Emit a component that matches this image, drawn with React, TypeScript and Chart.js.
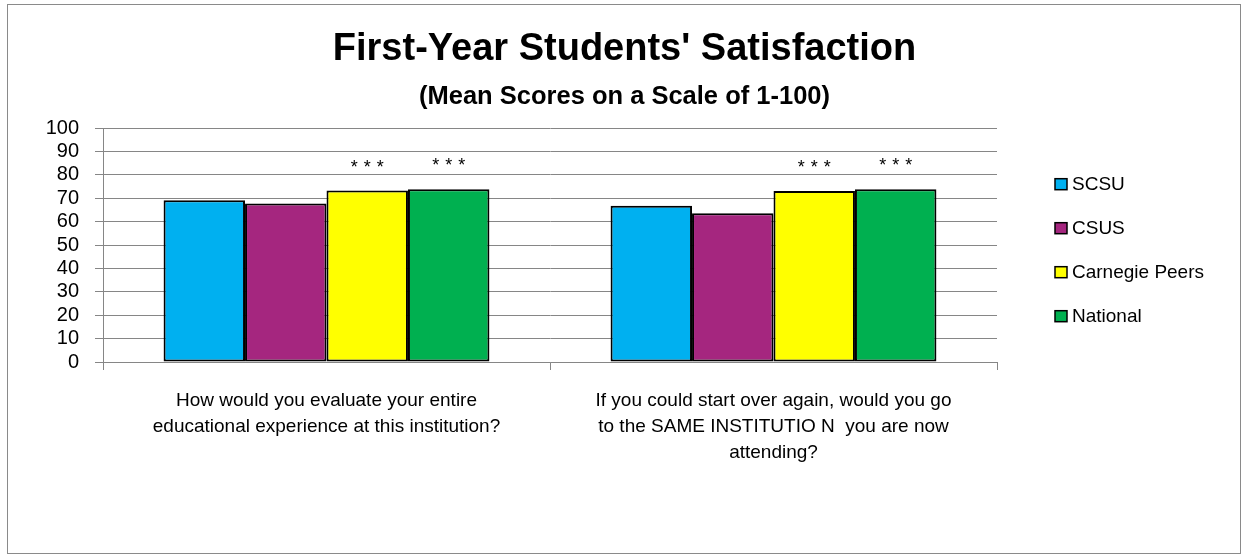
import React, { useEffect, useRef } from "react";
import { Chart, registerables } from "chart.js";

Chart.register(...registerables);

// ---- data ----
const categories: string[][] = [
  ["How would you evaluate your entire", "educational experience at this institution?"],
  ["If you could start over again, would you go", "to the SAME INSTITUTIO N  you are now", "attending?"],
];
const seriesNames = ["SCSU", "CSUS", "Carnegie Peers", "National"];
const scsuValues = [69.2, 66.8];
const csusValues = [67.8, 63.6];
const carnegieValues = [73.3, 73.1];
const nationalValues = [73.9, 73.9];
const seriesColors = ["#00B0F0", "#A5267F", "#FFFF00", "#00B050"];
const significance: string[][] = [
  ["", ""],
  ["", ""],
  ["***", "***"],
  ["***", "***"],
];
const yMin = 0;
const yMax = 100;
const yStep = 10;
const titleText = "First-Year Students' Satisfaction";
const subtitleText = "(Mean Scores on a Scale of 1-100)";

const FONT = "'Liberation Sans', Arial, sans-serif";
const GRID = "#868686";

const framePlugin = {
  id: "frame",
  beforeDraw(chart: any) {
    const { ctx, width, height } = chart;
    ctx.save();
    ctx.fillStyle = "#ffffff";
    ctx.fillRect(0, 0, width, height);
    ctx.strokeStyle = "#8a8a8a";
    ctx.lineWidth = 1;
    ctx.strokeRect(7.5, 4.5, width - 16, height - 5);
    ctx.restore();
  },
};

const sigPlugin = {
  id: "sig",
  afterDatasetsDraw(chart: any) {
    const { ctx } = chart;
    ctx.save();
    ctx.fillStyle = "#000";
    ctx.font = `18px ${FONT}`;
    ctx.textAlign = "center";
    ctx.textBaseline = "middle";
    const spacing = 6;
    try {
      (ctx as any).letterSpacing = spacing + "px";
    } catch (e) {}
    chart.data.datasets.forEach((_: any, i: number) => {
      const meta = chart.getDatasetMeta(i);
      meta.data.forEach((bar: any, j: number) => {
        const t = significance[i] && significance[i][j];
        if (t) ctx.fillText(t, bar.x + spacing / 2, bar.y - 23);
      });
    });
    ctx.restore();
  },
};

const legendPlugin = {
  id: "customLegend",
  afterDraw(chart: any) {
    const { ctx, chartArea } = chart;
    ctx.save();
    ctx.font = `19px ${FONT}`;
    ctx.textBaseline = "middle";
    ctx.textAlign = "left";
    const boxX = chartArea.right + 58;
    chart.data.datasets.forEach((ds: any, i: number) => {
      const cy = chartArea.top + 56 + i * 44;
      ctx.fillStyle = ds.backgroundColor;
      ctx.fillRect(boxX, cy - 5.5, 12, 11);
      ctx.strokeStyle = "#000";
      ctx.lineWidth = 1.5;
      ctx.strokeRect(boxX, cy - 5.5, 12, 11);
      ctx.fillStyle = "#000";
      ctx.fillText(ds.label, boxX + 17, cy + 1);
    });
    ctx.restore();
  },
};

export default function App() {
  const ref = useRef<HTMLCanvasElement | null>(null);

  useEffect(() => {
    document.body.style.margin = "0";
    const canvas = ref.current;
    if (!canvas) return;
    const values = [scsuValues, csusValues, carnegieValues, nationalValues];
    const chart = new Chart(canvas, {
      type: "bar",
      data: {
        labels: categories as any,
        datasets: seriesNames.map((name, i) => ({
          label: name,
          data: values[i],
          backgroundColor: seriesColors[i],
          borderColor: "#000000",
          borderWidth: 2,
          borderSkipped: false,
          categoryPercentage: 0.729,
          barPercentage: 1,
        })),
      },
      options: {
        animation: false,
        responsive: false,
        maintainAspectRatio: false,
        layout: { padding: 0 },
        plugins: {
          legend: { display: false },
          tooltip: { enabled: false },
          title: {
            display: true,
            text: titleText,
            color: "#000",
            font: { family: FONT, size: 38, weight: "bold" },
            padding: { top: 27, bottom: 0 },
          },
          subtitle: {
            display: true,
            text: subtitleText,
            color: "#000",
            font: { family: FONT, size: 25.5, weight: "bold" },
            padding: { top: 9, bottom: 16 },
          },
        },
        scales: {
          x: {
            offset: true,
            grid: {
              display: true,
              drawOnChartArea: false,
              drawTicks: true,
              tickLength: 8,
              color: GRID,
              offset: true,
            },
            border: { display: true, color: GRID, width: 1 },
            ticks: {
              color: "#000",
              font: { family: FONT, size: 19, lineHeight: "26px" },
              padding: 18,
              maxRotation: 0,
              autoSkip: false,
            },
            afterFit(scale: any) {
              scale.height = 192;
            },
          },
          y: {
            min: yMin,
            max: yMax,
            grid: { color: GRID, tickLength: 8, drawTicks: true },
            border: { display: true, color: GRID, width: 1 },
            ticks: {
              stepSize: yStep,
              autoSkip: false,
              color: "#000",
              font: { family: FONT, size: 20 },
              padding: 16,
            },
            afterFit(scale: any) {
              scale.width = 103;
            },
          },
          legendSpace: {
            type: "linear",
            position: "right",
            display: true,
            grid: { display: false, drawTicks: false },
            border: { display: false },
            ticks: { display: false },
            afterFit(scale: any) {
              scale.width = 252;
            },
          },
        },
      } as any,
      plugins: [framePlugin, sigPlugin, legendPlugin],
    });
    return () => chart.destroy();
  }, []);

  return (
    <div style={{ width: 1249, height: 554 }}>
      <canvas ref={ref} width={1249} height={554} style={{ display: "block" }} />
    </div>
  );
}
